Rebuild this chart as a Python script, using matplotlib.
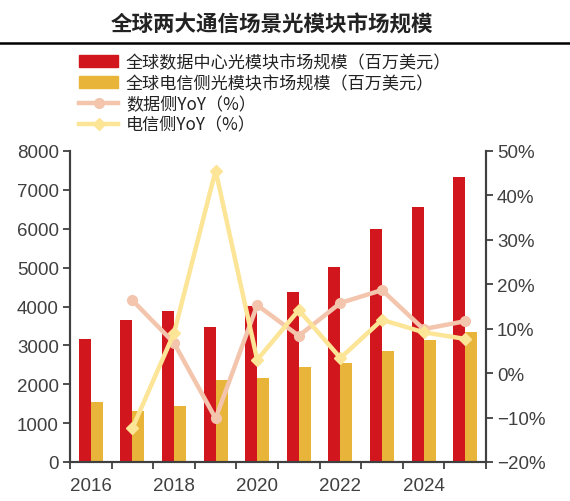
import numpy as np
import matplotlib
matplotlib.use("Agg")
import matplotlib.pyplot as plt
from matplotlib.lines import Line2D
from matplotlib.patches import Patch

plt.rcParams['font.family'] = ['Noto Sans CJK SC', 'DejaVu Sans']

years = [2016, 2017, 2018, 2019, 2020, 2021, 2022, 2023, 2024, 2025]
datacenter = [3170, 3655, 3875, 3480, 4005, 4365, 5025, 5995, 6570, 7320]
telecom = [1540, 1305, 1450, 2110, 2150, 2450, 2555, 2865, 3140, 3350]
# YoY in %, first year has none
dc_yoy = [np.nan, 16.4, 6.8, -10.2, 15.3, 8.4, 15.8, 18.7, 9.9, 11.7]
tel_yoy = [np.nan, -12.4, 9.0, 45.6, 3.0, 14.2, 3.4, 12.0, 9.2, 7.7]

red = "#D2161E"
gold = "#E8B43A"
pink = "#F4C5AD"
yellow = "#FCE596"
grey = "#404040"

fig = plt.figure(figsize=(5.7, 5.02), dpi=100)
ax = fig.add_axes([70/570, 1-463/502, (486-70)/570, (463-152)/502])
ax2 = ax.twinx()

x = np.arange(len(years))
w = 0.29
ax.bar(x - w/2, datacenter, width=w, color=red, zorder=2)
ax.bar(x + w/2, telecom, width=w, color=gold, zorder=2)

ax2.plot(x, dc_yoy, color=pink, lw=3.2, marker="o", ms=7, zorder=3)
ax2.plot(x, tel_yoy, color=yellow, lw=3.2, marker="D", ms=6, zorder=4)

ax.set_xlim(-0.5, len(years) - 0.5)
ax.set_ylim(0, 8000)
ax2.set_ylim(-20, 50)
ax.set_yticks(np.arange(0, 8001, 1000))
ax2.set_yticks(np.arange(-20, 51, 10))
ax2.set_yticklabels([("−%d%%" % -v) if v < 0 else ("%d%%" % v) for v in range(-20, 51, 10)])

ax.set_xticks(np.arange(-0.5, len(years), 1.0), minor=True)
ax.set_xticks(x[::2])
ax.set_xticklabels([str(y) for y in years[::2]])
ax.tick_params(axis="x", which="major", length=0, pad=11)
ax.tick_params(axis="x", which="minor", length=5, width=1.3, color=grey, direction="out")

for a in (ax, ax2):
    a.spines["top"].set_visible(False)
    for s in ("left", "right", "bottom"):
        a.spines[s].set_color(grey)
        a.spines[s].set_linewidth(1.5)
    a.tick_params(axis="y", length=5, width=1.3, color=grey, direction="out", pad=3)
    for lab in a.get_yticklabels() + a.get_xticklabels():
        lab.set_family(["Liberation Sans", "DejaVu Sans"])
        lab.set_fontsize(13.5)
        lab.set_color(grey)

ax.set_zorder(ax2.get_zorder() - 1)
ax.patch.set_visible(True)
ax2.patch.set_visible(False)

# title and rule
fig.text(272/570, 1-25/502, "全球两大通信场景光模块市场规模", ha="center", va="center",
         fontsize=15.5, fontweight="bold", color="#222222")
fig.add_artist(Line2D([0, 1], [1-44/502, 1-44/502], color="black", lw=1.8,
                      transform=fig.transFigure))

handles = [
    Patch(color=red),
    Patch(color=gold),
    Line2D([], [], color=pink, lw=3.2, marker="o", ms=7),
    Line2D([], [], color=yellow, lw=3.2, marker="D", ms=6),
]
labels = ["全球数据中心光模块市场规模（百万美元）", "全球电信侧光模块市场规模（百万美元）",
          "数据侧YoY（%）", "电信侧YoY（%）"]
leg = fig.legend(handles, labels, loc="upper left", bbox_to_anchor=(79/570, 1-54/502),
                 frameon=False, fontsize=12.3, handlelength=2.3, handleheight=0.7,
                 labelspacing=0.17, handletextpad=0.45, borderaxespad=0, borderpad=0)
for t in leg.get_texts():
    t.set_color("#222222")

fig.savefig("out.png", dpi=100)
